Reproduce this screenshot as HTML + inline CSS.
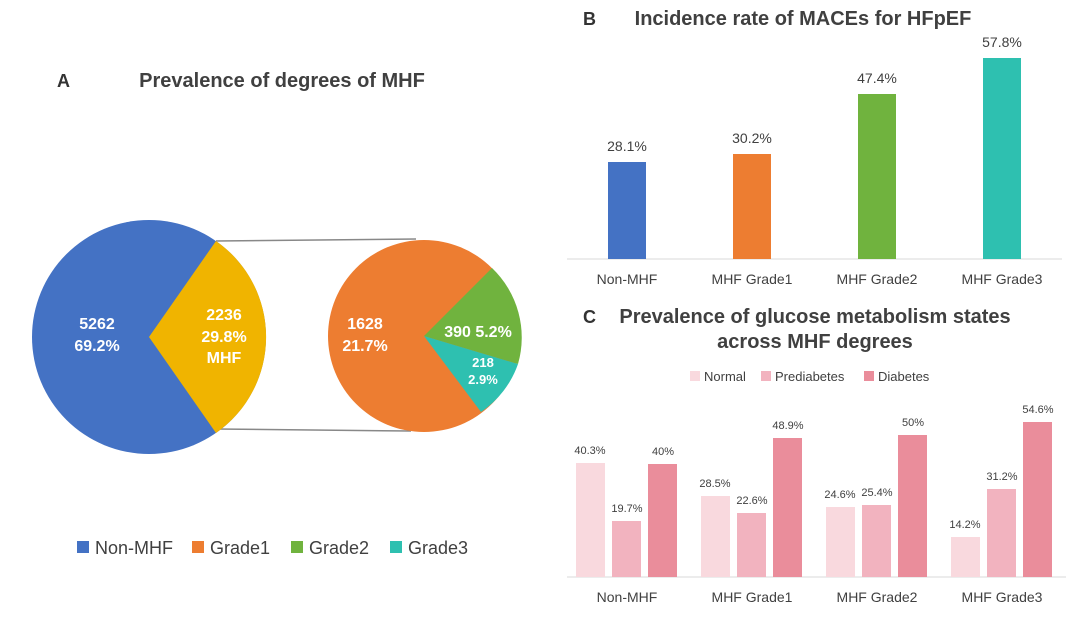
<!DOCTYPE html>
<html><head><meta charset="utf-8"><style>
html,body{margin:0;padding:0;background:#fff;}
svg{display:block;font-family:"Liberation Sans",Arial,sans-serif;}
</style></head><body>
<svg width="1080" height="625" viewBox="0 0 1080 625" xmlns="http://www.w3.org/2000/svg">
<!-- Panel A -->
<text x="57" y="87" font-size="18" font-weight="bold" fill="#333">A</text>
<text x="282" y="87" font-size="20" font-weight="bold" fill="#404040" text-anchor="middle">Prevalence of degrees of MHF</text>
<line x1="216" y1="241" x2="416" y2="239" stroke="#888" stroke-width="1.5"/>
<line x1="216" y1="429" x2="411" y2="431" stroke="#888" stroke-width="1.5"/>
<circle cx="149" cy="337" r="117" fill="#4472c4"/>
<path d="M149,337 L216,241 A117,117 0 0 1 216,433 Z" fill="#f0b400"/>
<text font-size="16" font-weight="bold" fill="#fff" text-anchor="middle"><tspan x="97" y="329">5262</tspan><tspan x="97" y="351">69.2%</tspan></text>
<text font-size="16" font-weight="bold" fill="#fff" text-anchor="middle"><tspan x="224" y="320">2236</tspan><tspan x="224" y="342">29.8%</tspan><tspan x="224" y="363">MHF</tspan></text>
<circle cx="424" cy="336" r="96" fill="#ed7d31"/>
<path d="M424,336 L492,268 A96,96 0 0 1 518,364 Z" fill="#70b33e"/>
<path d="M424,336 L518,364 A96,96 0 0 1 481,412 Z" fill="#2ec0b0"/>
<text font-size="16" font-weight="bold" fill="#fff" text-anchor="middle"><tspan x="365" y="329">1628</tspan><tspan x="365" y="351">21.7%</tspan></text>
<text x="478" y="337" font-size="16" font-weight="bold" fill="#fff" text-anchor="middle">390 5.2%</text>
<text font-size="13" font-weight="bold" fill="#fff" text-anchor="middle"><tspan x="483" y="367">218</tspan><tspan x="483" y="384">2.9%</tspan></text>
<g font-size="18" fill="#404040">
<rect x="77" y="541" width="12" height="12" fill="#4472c4"/><text x="95" y="554">Non-MHF</text>
<rect x="192" y="541" width="12" height="12" fill="#ed7d31"/><text x="210" y="554">Grade1</text>
<rect x="291" y="541" width="12" height="12" fill="#70b33e"/><text x="309" y="554">Grade2</text>
<rect x="390" y="541" width="12" height="12" fill="#2ec0b0"/><text x="408" y="554">Grade3</text>
</g>
<!-- Panel B -->
<text x="583" y="25" font-size="18" font-weight="bold" fill="#333">B</text>
<text x="803" y="25" font-size="20" font-weight="bold" fill="#404040" text-anchor="middle">Incidence rate of MACEs for HFpEF</text>
<line x1="567" y1="259" x2="1062" y2="259" stroke="#d9d9d9" stroke-width="1"/>
<rect x="608" y="162" width="38" height="97" fill="#4472c4"/>
<rect x="733" y="154" width="38" height="105" fill="#ed7d31"/>
<rect x="858" y="94" width="38" height="165" fill="#70b33e"/>
<rect x="983" y="58" width="38" height="201" fill="#2ec0b0"/>
<g font-size="14" fill="#404040" text-anchor="middle">
<text x="627" y="151">28.1%</text><text x="752" y="143">30.2%</text><text x="877" y="83">47.4%</text><text x="1002" y="47">57.8%</text>
<text x="627" y="284">Non-MHF</text><text x="752" y="284">MHF Grade1</text><text x="877" y="284">MHF Grade2</text><text x="1002" y="284">MHF Grade3</text>
</g>
<!-- Panel C -->
<text x="583" y="323" font-size="18" font-weight="bold" fill="#333">C</text>
<text font-size="20" font-weight="bold" fill="#404040" text-anchor="middle"><tspan x="815" y="323">Prevalence of glucose metabolism states</tspan><tspan x="815" y="348">across MHF degrees</tspan></text>
<g font-size="13" fill="#404040">
<rect x="690" y="371" width="10" height="10" fill="#f9d9de"/><text x="704" y="381">Normal</text>
<rect x="761" y="371" width="10" height="10" fill="#f2b3bf"/><text x="775" y="381">Prediabetes</text>
<rect x="864" y="371" width="10" height="10" fill="#ea8d9b"/><text x="878" y="381">Diabetes</text>
</g>
<line x1="567" y1="577" x2="1066" y2="577" stroke="#d9d9d9" stroke-width="1"/>
<g>
<rect x="576" y="463" width="29" height="114" fill="#f9d9de"/>
<rect x="612" y="521" width="29" height="56" fill="#f2b3bf"/>
<rect x="648" y="464" width="29" height="113" fill="#ea8d9b"/>
<rect x="701" y="496" width="29" height="81" fill="#f9d9de"/>
<rect x="737" y="513" width="29" height="64" fill="#f2b3bf"/>
<rect x="773" y="438" width="29" height="139" fill="#ea8d9b"/>
<rect x="826" y="507" width="29" height="70" fill="#f9d9de"/>
<rect x="862" y="505" width="29" height="72" fill="#f2b3bf"/>
<rect x="898" y="435" width="29" height="142" fill="#ea8d9b"/>
<rect x="951" y="537" width="29" height="40" fill="#f9d9de"/>
<rect x="987" y="489" width="29" height="88" fill="#f2b3bf"/>
<rect x="1023" y="422" width="29" height="155" fill="#ea8d9b"/>
</g>
<g font-size="11" fill="#404040" text-anchor="middle">
<text x="590" y="454">40.3%</text><text x="627" y="512">19.7%</text><text x="663" y="455">40%</text>
<text x="715" y="487">28.5%</text><text x="752" y="504">22.6%</text><text x="788" y="429">48.9%</text>
<text x="840" y="498">24.6%</text><text x="877" y="496">25.4%</text><text x="913" y="426">50%</text>
<text x="965" y="528">14.2%</text><text x="1002" y="480">31.2%</text><text x="1038" y="413">54.6%</text>
</g>
<g font-size="14" fill="#404040" text-anchor="middle">
<text x="627" y="602">Non-MHF</text><text x="752" y="602">MHF Grade1</text><text x="877" y="602">MHF Grade2</text><text x="1002" y="602">MHF Grade3</text>
</g>
</svg>
</body></html>
